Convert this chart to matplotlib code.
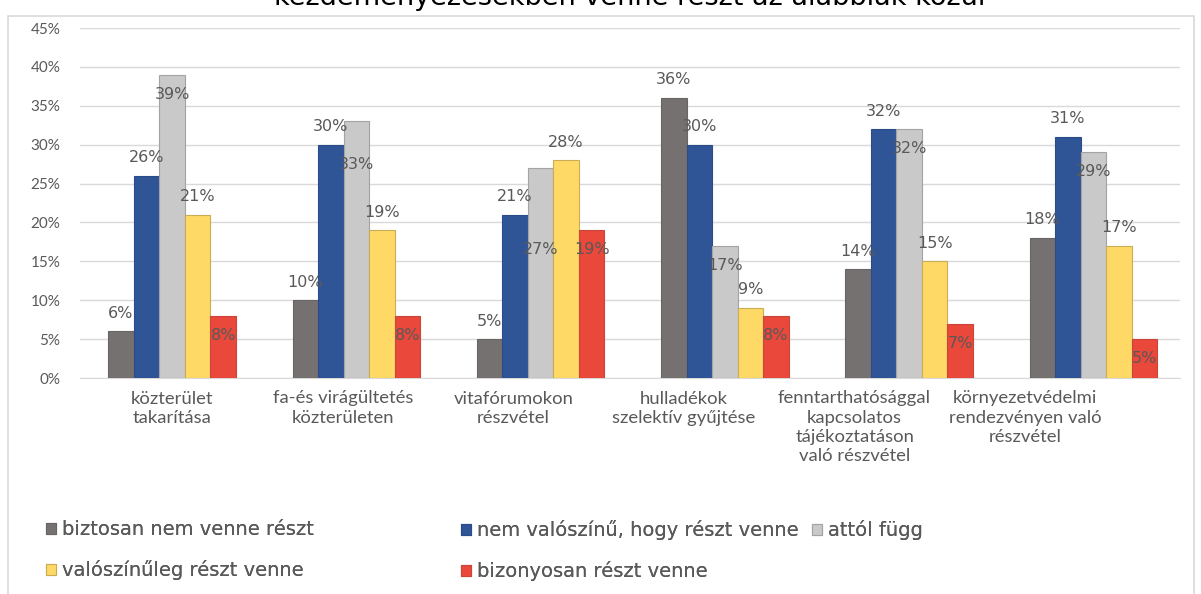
import numpy as np
import matplotlib.pyplot as plt
from matplotlib.patches import Patch, Rectangle

kategoriak = [
    "közterület\ntakarítása",
    "fa-és virágültetés\nközterületen",
    "vitafórumokon\nrészvétel",
    "hulladékok\nszelektív gyűjtése",
    "fenntarthatósággal\nkapcsolatos\ntájékoztatáson\nvaló részvétel",
    "környezetvédelmi\nrendezvényen való\nrészvétel",
]
sorozatok = [
    "biztosan nem venne részt",
    "nem valószínű, hogy részt venne",
    "attól függ",
    "valószínűleg részt venne",
    "bizonyosan részt venne",
]
biztosan_nem = [6, 10, 5, 36, 14, 18]
nem_valoszinu = [26, 30, 21, 30, 32, 31]
attol_fugg = [39, 33, 27, 17, 32, 29]
valoszinuleg = [21, 19, 28, 9, 15, 17]
bizonyosan = [8, 8, 19, 8, 7, 5]
ertekek = [biztosan_nem, nem_valoszinu, attol_fugg, valoszinuleg, bizonyosan]

szinek = ["#767171", "#2F5597", "#C9C9C9", "#FFD966", "#E9483A"]
keretek = ["#6a6565", "#2a4c88", "#a3a3a3", "#c9ad55", "#c8463a"]
# a címke a oszlop fölé (+) vagy a tetején belülre (-) kerül
cimke_irany = [1, 1, -1, 1, -1]
extra_lejjebb = {(1, 2): 17, (2, 2): 45}

szoveg = "#595959"

fig = plt.figure(figsize=(12.01, 5.94), dpi=100)
fig.patches.append(Rectangle((8 / 1201, -0.01), 1186 / 1201, 1 - 16 / 594 + 0.01,
                             transform=fig.transFigure, fill=False,
                             edgecolor="#D9D9D9", lw=1.2))
fig.text(630 / 1201, 1 - 5 / 594, "kezdeményezésekben venne részt az alábbiak közül",
         ha="center", va="baseline", fontsize=19.5, color="black")

ax = fig.add_axes([80 / 1201, 1 - 378 / 594, 1100 / 1201, 350 / 594])

x = np.arange(len(kategoriak))
w = 0.1386
for k, (nev, adat) in enumerate(zip(sorozatok, ertekek)):
    y = np.array(adat) / 100
    pos = x + (k - 2) * w
    ax.bar(pos, y, w, color=szinek[k], edgecolor=keretek[k], lw=0.8,
           label=nev, zorder=3)
    for i, (px, v) in enumerate(zip(pos, y)):
        dy = 13 if cimke_irany[k] > 0 else -14
        dy -= extra_lejjebb.get((i, k), 0)
        ax.annotate(f"{adat[i]}%", (px, v), xytext=(0, dy),
                    textcoords="offset points", ha="center", va="center",
                    fontsize=11.5, color=szoveg, zorder=4)

ax.set_ylim(0, 0.45)
ax.set_xlim(-0.5, 5.47)
ax.set_yticks(np.arange(0, 0.451, 0.05))
ax.set_yticklabels([f"{t:.0f}%" for t in np.arange(0, 46, 5)],
                   fontfamily="Lato", fontsize=11, color=szoveg)
ax.yaxis.grid(True, color="#D9D9D9", lw=1, zorder=0)
ax.tick_params(axis="y", length=0, pad=14)
# a kategórianevek kicsit szorosabban állnak, mint az oszlopcsoportok
ax.set_xticks(x * 0.926)
ax.set_xticklabels(kategoriak, fontfamily="Lato", fontsize=13.3,
                   color=szoveg, linespacing=1.25, va="top")
ax.tick_params(axis="x", length=0, pad=9)
for s in ["top", "right", "left"]:
    ax.spines[s].set_visible(False)
ax.spines["bottom"].set_color("#D9D9D9")

# jelmagyarázat három oszlopban, soronként olvasva
fogantyuk = [Patch(facecolor=c, edgecolor=e, lw=0.8) for c, e in zip(szinek, keretek)]
oszlopok = [([0, 3], 46), ([1, 4], 461), ([2], 812)]
for idx, px in oszlopok:
    leg = fig.legend([fogantyuk[i] for i in idx], [sorozatok[i] for i in idx],
                     loc="upper left", bbox_to_anchor=(px / 1201, 1 - 520 / 594),
                     frameon=False, fontsize=14, handlelength=0.5,
                     handleheight=0.5, handletextpad=0.3, labelspacing=1.1,
                     borderpad=0, borderaxespad=0)
    for t in leg.get_texts():
        t.set_color(szoveg)
    fig.add_artist(leg)

fig.savefig("out.png", dpi=100)
